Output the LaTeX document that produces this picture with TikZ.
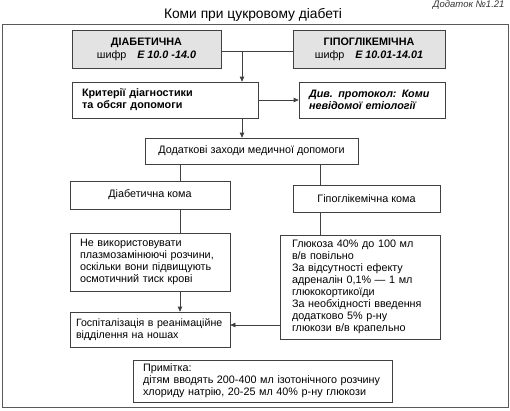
\documentclass[tikz,border=0pt]{standalone}
\usepackage{fontspec}
\setmainfont{Liberation Sans}
\usetikzlibrary{arrows.meta}
\begin{document}
\begin{tikzpicture}[x=1pt,y=-1pt,
  box/.style={draw=black!75, line width=0.7pt, inner sep=0pt, font=\fontsize{10.8}{12}\selectfont},
  lbox/.style={box, align=left, inner xsep=10pt},
  hbox/.style={box, fill=black!11, align=center},
  conn/.style={draw=black!75, line width=0.7pt},
  arr/.style={conn, -{Triangle[length=5pt,width=4.5pt]}}]
\useasboundingbox (0,0) rectangle (510,410);
\draw[draw=black!65, line width=0.8pt] (2,24) rectangle (508,407);
\node[font=\fontsize{13.8}{16}\selectfont] (title) at (253,15) {Коми при цукровому діабеті};
\node[font=\fontsize{9.5}{10}\selectfont\itshape, text=black!80, anchor=east] (add) at (508,5) {Додаток №1.21};

\node[hbox, minimum width=149pt, minimum height=38pt] (diab) at (146.5,49)
  {\textbf{ДІАБЕТИЧНА}\\[1pt] шифр\quad\textbf{\textit{E 10.0 -14.0}}};
\node[hbox, minimum width=152pt, minimum height=38pt] (hypo) at (369,49)
  {\textbf{ГІПОГЛІКЕМІЧНА}\\[1pt] шифр\quad\textbf{\textit{E 10.01-14.01}}};
\node[lbox, text width=166pt, minimum height=36pt, font=\fontsize{10.8}{12}\selectfont\bfseries] (krit) at (165,100)
  {Критерії діагностики\\та обсяг допомоги};
\node[lbox, text width=126pt, minimum height=36pt, font=\fontsize{10.8}{12}\selectfont\bfseries\itshape] (div) at (372,100)
  {Див. протокол: Коми\\невідомої етіології};
\node[box, minimum width=213pt, minimum height=26pt] (dod) at (251.5,151)
  {Додаткові заходи медичної допомоги};
\node[box, minimum width=160pt, minimum height=28pt] (diabk) at (150,195) {Діабетична кома};
\node[box, minimum width=147pt, minimum height=27pt] (hypok) at (366.5,198.5) {Гіпоглікемічна кома};
\node[lbox, text width=140pt, minimum height=58pt] (nevyk) at (150,262)
  {Не використовувати\\плазмозамінюючі розчини,\\оскільки вони підвищують\\осмотичний тиск крові};
\node[lbox, inner xsep=12pt, text width=136pt, minimum height=104pt] (gluk) at (360,287)
  {Глюкоза 40\% до 100 мл\\в/в повільно\\За відсутності ефекту\\адреналін 0,1\% — 1 мл\\глюкокортикоїди\\За необхідності введення\\додатково 5\% р-ну\\глюкози в/в крапельно};
\node[lbox, inner xsep=6pt, text width=148pt, minimum height=35pt, font=\fontsize{10.6}{12}\selectfont] (hosp) at (150,329.5)
  {\mbox{Госпіталізація в реанімаційне}\\відділення на ношах};
\node[lbox, text width=239pt, minimum height=42pt] (prim) at (262.5,381)
  {Примітка:\\дітям вводять 200-400 мл ізотонічного розчину\\хлориду натрію, 20-25 мл 40\% р-ну глюкози};

\coordinate (j) at (242,51);
\coordinate (cl) at (180,0);
\coordinate (cr) at (320,0);
\draw[conn] (diab.east |- j) -- (hypo.west |- j);
\draw[arr] (j) -- (j |- krit.north);
\draw[arr] (krit.east) -- (div.west);
\draw[arr] (j |- krit.south) -- (j |- dod.north);
\draw[conn] (cl |- dod.south) -- (cl |- diabk.north);
\draw[conn] (cr |- dod.south) -- (cr |- hypok.north);
\draw[conn] (cl |- diabk.south) -- (cl |- nevyk.north);
\draw[conn] (cr |- hypok.south) -- (cr |- gluk.north);
\draw[arr] (cl |- nevyk.south) -- (cl |- hosp.north);
\coordinate (g) at (0,325);
\draw[arr] (g -| gluk.west) -- (g -| hosp.east);
\end{tikzpicture}
\end{document}
